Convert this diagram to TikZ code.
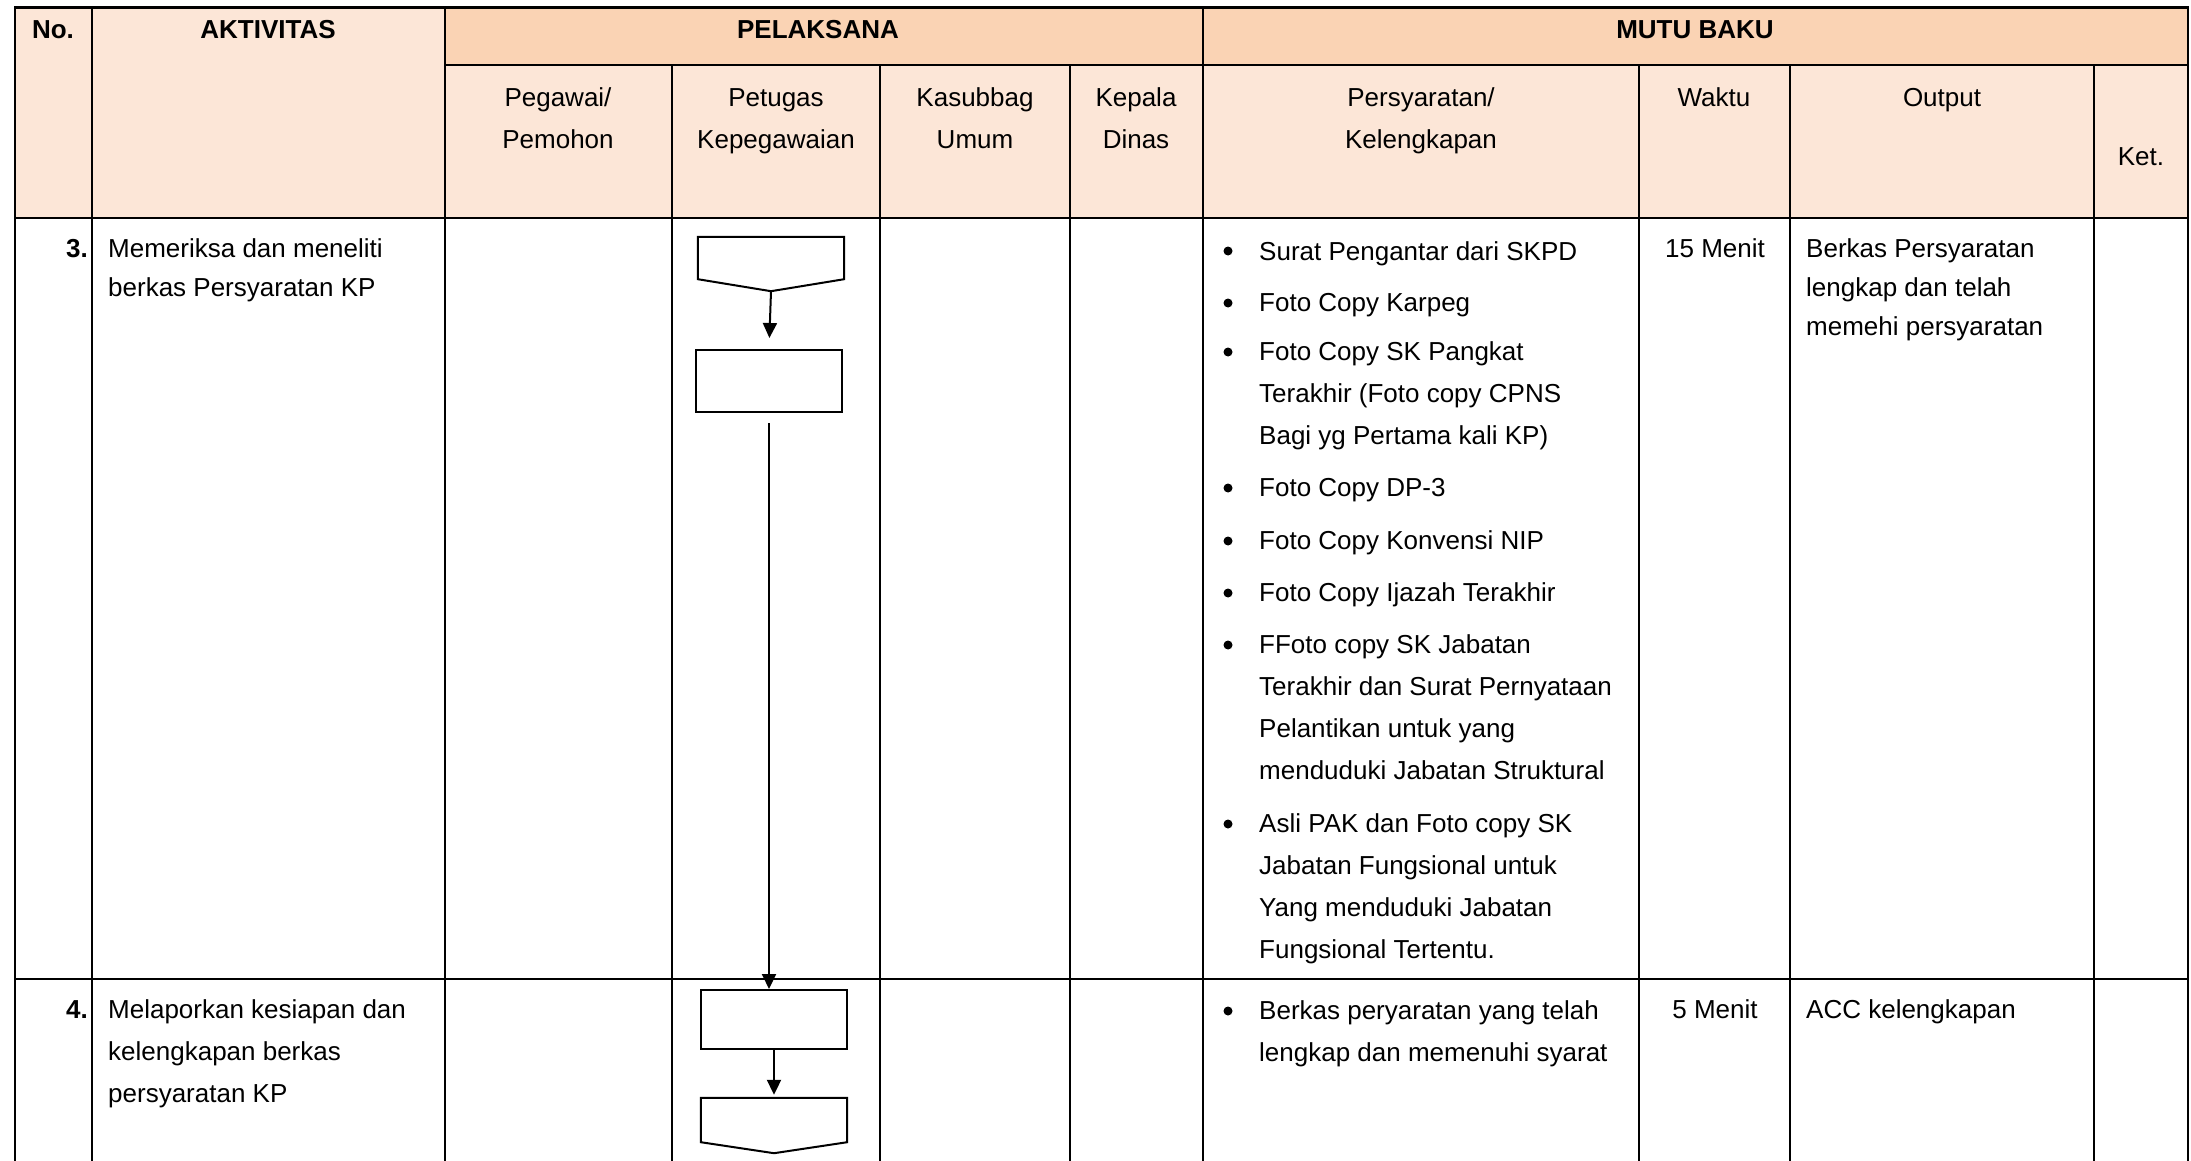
\documentclass[tikz,border=0pt]{standalone}
\usepackage{fontspec}
\setmainfont{Liberation Sans}
\usetikzlibrary{arrows.meta}
\definecolor{hdrlight}{HTML}{FCE6D7}
\definecolor{hdrdark}{HTML}{FAD3B4}
\begin{document}
\begin{tikzpicture}[x=1pt,y=-1pt,
  txt/.style={inner sep=0pt, font=\fontsize{26}{42}\selectfont},
  btxt/.style={inner sep=0pt, font=\fontsize{26}{42}\selectfont\bfseries},
  ln/.style={txt, anchor=base west},
  ctr/.style={txt, anchor=base},
  gridthick/.style={line width=2.2pt, line join=miter},
  gridthin/.style={line width=1.5pt},
  box/.style={draw, line width=2pt, minimum width=146pt, inner sep=0pt},
  ghost/.style={inner sep=0pt, minimum width=146pt},
  flow/.style={line width=2pt, -{Triangle[length=15pt,width=14pt]}},
  dot/.style={fill=black}]
\useasboundingbox (0,0) rectangle (2191,1161);
% header fills
\fill[hdrlight] (15,7.5) rectangle (2188,218);
\fill[hdrdark] (445,7.5) rectangle (2188,65);
% vertical lines
\foreach \x in {92,445,1203}{\draw[gridthin] (\x,7.5) -- (\x,1161);}
\foreach \x in {672,880,1070,1639,1790,2094}{\draw[gridthin] (\x,65) -- (\x,1161);}
% horizontal lines and frame
\draw[gridthick] (15,1161) -- (15,7.5) -- (2188,7.5) -- (2188,1161);
\draw[gridthick] (445,65) -- (2188,65);
\draw[gridthick] (15,218) -- (2188,218);
\draw[gridthick] (15,979) -- (2188,979);
% header texts
\node[btxt,anchor=base] (hNo) at (53,39) {No.};
\node[btxt,anchor=base] (hAkt) at (268,39) {AKTIVITAS};
\node[btxt,anchor=base] (hPel) at (818,39) {PELAKSANA};
\node[btxt,anchor=base] (hMutu) at (1695,39) {MUTU BAKU};
\node[ctr] (hPeg1) at (558,107) {Pegawai/};
\node[ctr] (hPeg2) at (558,149) {Pemohon};
\node[ctr] (hPet1) at (776,107) {Petugas};
\node[ctr] (hPet2) at (776,149) {Kepegawaian};
\node[ctr] (hKas1) at (975,107) {Kasubbag};
\node[ctr] (hKas2) at (975,149) {Umum};
\node[ctr] (hKep1) at (1136,107) {Kepala};
\node[ctr] (hKep2) at (1136,149) {Dinas};
\node[ctr] (hPer1) at (1421,107) {Persyaratan/};
\node[ctr] (hPer2) at (1421,149) {Kelengkapan};
\node[ctr] (hWak) at (1714,107) {Waktu};
\node[ctr] (hOut) at (1942,107) {Output};
\node[ctr] (hKet) at (2141,166) {Ket.};
% row 3
\node[btxt,anchor=base east] (n3) at (88,257) {3.};
\node[ln] (a3a) at (108,257) {Memeriksa dan meneliti};
\node[ln] (a3b) at (108,296) {berkas Persyaratan KP};
\node[ctr] (w3) at (1715,257) {15 Menit};
\node[ln] (o3a) at (1806,257) {Berkas Persyaratan};
\node[ln] (o3b) at (1806,296) {lengkap dan telah};
\node[ln] (o3c) at (1806,335) {memehi persyaratan};
\foreach \b in {259,311,360,496,549,601,653,832}{\fill[dot] (1228,\b-8) circle (4.5pt);}
\node[ln] (p1) at (1259,260) {Surat Pengantar dari SKPD};
\node[ln] (p2) at (1259,311) {Foto Copy Karpeg};
\node[ln] (p3a) at (1259,360) {Foto Copy SK Pangkat};
\node[ln] (p3b) at (1259,402) {Terakhir (Foto copy CPNS};
\node[ln] (p3c) at (1259,444) {Bagi yg Pertama kali KP)};
\node[ln] (p4) at (1259,496) {Foto Copy DP-3};
\node[ln] (p5) at (1259,549) {Foto Copy Konvensi NIP};
\node[ln] (p6) at (1259,601) {Foto Copy Ijazah Terakhir};
\node[ln] (p7a) at (1259,653) {FFoto copy SK Jabatan};
\node[ln] (p7b) at (1259,695) {Terakhir dan Surat Pernyataan};
\node[ln] (p7c) at (1259,737) {Pelantikan untuk yang};
\node[ln] (p7d) at (1259,779) {menduduki Jabatan Struktural};
\node[ln] (p8a) at (1259,832) {Asli PAK dan Foto copy SK};
\node[ln] (p8b) at (1259,874) {Jabatan Fungsional untuk};
\node[ln] (p8c) at (1259,916) {Yang menduduki Jabatan};
\node[ln] (p8d) at (1259,958) {Fungsional Tertentu.};
% row 4
\node[btxt,anchor=base east] (n4) at (88,1018) {4.};
\node[ln] (a4a) at (108,1018) {Melaporkan kesiapan dan};
\node[ln] (a4b) at (108,1060) {kelengkapan berkas};
\node[ln] (a4c) at (108,1102) {persyaratan KP};
\fill[dot] (1228,1011) circle (4.5pt);
\node[ln] (q1a) at (1259,1019) {Berkas peryaratan yang telah};
\node[ln] (q1b) at (1259,1061) {lengkap dan memenuhi syarat};
\node[ctr] (w4) at (1715,1018) {5 Menit};
\node[ln] (o4) at (1806,1018) {ACC kelengkapan};
% flow shapes
\node[ghost, minimum height=54pt] (S1) at (771,264) {};
\draw[line width=2pt, line join=miter] (S1.north west) -- (S1.north east) -- ([yshift=12pt]S1.south east) -- (S1.south) -- ([yshift=12pt]S1.south west) -- cycle;
\node[box, minimum height=62pt] (P1) at (769,381) {};
\node[box, minimum height=59pt] (P2) at (774,1019.5) {};
\node[ghost, minimum height=55pt] (S2) at (774,1125.5) {};
\draw[line width=2pt, line join=miter] (S2.north west) -- (S2.north east) -- ([yshift=11pt]S2.south east) -- (S2.south) -- ([yshift=11pt]S2.south west) -- cycle;
% connectors
\draw[flow, shorten >=11pt] (S1.south) -- (P1.north);
\draw[flow, shorten <=10pt] (P1.south) -- (P1.south |- P2.north);
\draw[flow, shorten >=3pt] (P2.south) -- (S2.north);
\end{tikzpicture}
\end{document}
